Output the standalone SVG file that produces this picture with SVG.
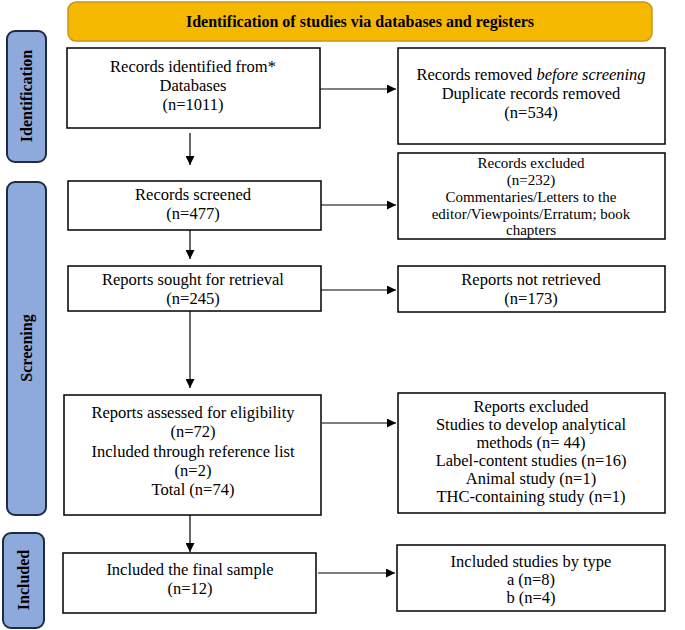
<svg xmlns="http://www.w3.org/2000/svg" width="685" height="630" viewBox="0 0 685 630" font-family="'Times New Roman','Liberation Serif',Tinos,'DejaVu Serif',serif">
<style>
.b{fill:#fff;stroke:#000;stroke-width:1.5}
.s{fill:#8ea9db;stroke:#1f2a44;stroke-width:2}
text{font-family:"Times New Roman","Liberation Serif",Tinos,"DejaVu Serif",serif;font-size:16.5px;fill:#000;text-anchor:middle}
.sl{font-weight:bold;font-size:16px}
.sm{font-size:15px}
.c{stroke:#000;stroke-width:1.2;fill:none;marker-end:url(#a)}
</style>
<defs><marker id="a" viewBox="0 0 10 10" refX="10" refY="5" markerWidth="9" markerHeight="9" markerUnits="userSpaceOnUse" orient="auto"><path d="M0,0L10,5L0,10z" fill="#000"/></marker></defs>
<rect width="685" height="630" fill="#fff"/>
<g id="banner"><rect x="68" y="2" width="584" height="39" rx="8" fill="#f5b800" stroke="#c8961a" stroke-width="1.5"/><text x="360" y="27" class="sl">Identification of studies via databases and registers</text></g>
<g id="side-identification"><rect class="s" x="7" y="31" width="39" height="131" rx="8"/><text class="sl" transform="translate(32,96) rotate(-90)">Identification</text></g>
<g id="side-screening"><rect class="s" x="7" y="182" width="39" height="333" rx="8"/><text class="sl" transform="translate(32,348) rotate(-90)">Screening</text></g>
<g id="side-included"><rect class="s" x="3" y="533" width="41" height="95" rx="8"/><text class="sl" transform="translate(29,580) rotate(-90)">Included</text></g>
<g id="n1"><rect class="b" x="67" y="48" width="253" height="80"/><text x="193" y="72">Records identified from*</text><text x="193" y="91">Databases</text><text x="193" y="110">(n=1011)</text></g>
<g id="n2"><rect class="b" x="398" y="48" width="267" height="96"/><text x="531" y="80">Records removed <tspan font-style="italic">before screening</tspan></text><text x="531" y="99">Duplicate records removed</text><text x="531" y="118">(n=534)</text></g>
<g id="n3"><rect class="b" x="68" y="181" width="253" height="49"/><text x="193" y="200">Records screened</text><text x="193" y="219">(n=477)</text></g>
<g id="n4" class="sm"><rect class="b" x="398" y="153" width="267" height="86"/><text class="sm" x="531" y="168">Records excluded</text><text class="sm" x="531" y="185">(n=232)</text><text class="sm" x="531" y="202">Commentaries/Letters to the</text><text class="sm" x="531" y="219">editor/Viewpoints/Erratum; book</text><text class="sm" x="531" y="235">chapters</text></g>
<g id="n5"><rect class="b" x="68" y="266" width="253" height="45"/><text x="193" y="285">Reports sought for retrieval</text><text x="193" y="304">(n=245)</text></g>
<g id="n6"><rect class="b" x="398" y="266" width="267" height="46"/><text x="531" y="285">Reports not retrieved</text><text x="531" y="304">(n=173)</text></g>
<g id="n7"><rect class="b" x="64" y="395" width="257" height="120"/><text x="193" y="418">Reports assessed for eligibility</text><text x="193" y="437">(n=72)</text><text x="193" y="457">Included through reference list</text><text x="193" y="476">(n=2)</text><text x="193" y="495">Total (n=74)</text></g>
<g id="n8"><rect class="b" x="398" y="393" width="267" height="120"/><text x="531" y="412">Reports excluded</text><text x="531" y="430">Studies to develop analytical</text><text x="531" y="448">methods (n= 44)</text><text x="531" y="466">Label-content studies (n=16)</text><text x="531" y="484">Animal study (n=1)</text><text x="531" y="502">THC-containing study (n=1)</text></g>
<g id="n9"><rect class="b" x="63" y="553" width="253" height="60"/><text x="190" y="575">Included the final sample</text><text x="190" y="594">(n=12)</text></g>
<g id="n10"><rect class="b" x="397" y="545" width="268" height="66"/><text x="531" y="567">Included studies by type</text><text x="531" y="585">a (n=8)</text><text x="531" y="603">b (n=4)</text></g>
<g id="connectors">
<path class="c" d="M320,89H396"/><path class="c" d="M190,133V165"/>
<path class="c" d="M321,205H396"/><path class="c" d="M190,230V259"/>
<path class="c" d="M321,290H396"/><path class="c" d="M190,311V388"/>
<path class="c" d="M322,423H396"/><path class="c" d="M190,515V552"/>
<path class="c" d="M318,573H395"/>
</g>
</svg>
